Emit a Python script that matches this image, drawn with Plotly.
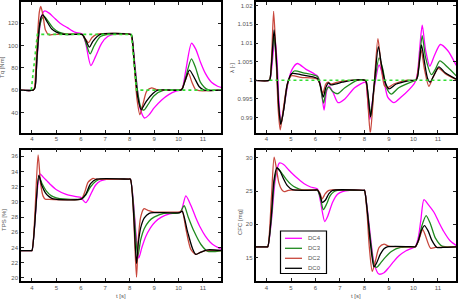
import plotly.graph_objects as go

# ---------------- data ----------------
x_ticks = [4, 5, 6, 7, 8, 9, 10, 11]

# Tq [Nm]
tq_ref_t = [3.97, 4.22, 8.07, 8.28, 11.8]
tq_ref_v = [60, 110, 110, 60, 60]

tq_dc0_t = [3.5, 4.05, 4.12, 4.2, 4.3, 4.38, 4.45, 4.6, 4.8, 5.0, 5.3, 6.03, 6.08, 6.2, 6.35, 6.5, 6.8, 8.03, 8.08, 8.2, 8.33, 8.47, 8.68, 8.95, 9.15, 10.08, 10.15, 10.28, 10.45, 10.65, 10.85, 11.05, 11.8]
tq_dc0_v = [60, 60, 62, 88, 117, 126, 127.5, 122, 115, 112, 110, 110, 109.5, 105, 98.5, 104, 110, 110, 109, 81, 54, 42.5, 50, 57, 60, 60, 61, 69, 78, 71, 63, 60, 60]

tq_dc2_t = [3.5, 4.05, 4.1, 4.2, 4.3, 4.36, 4.45, 4.55, 4.7, 4.9, 6.03, 6.08, 6.18, 6.32, 6.45, 6.65, 8.02, 8.07, 8.17, 8.3, 8.42, 8.55, 8.7, 8.9, 9.1, 10.08, 10.14, 10.25, 10.41, 10.55, 10.7, 10.85, 11.8]
tq_dc2_v = [60, 60, 62, 98, 130, 135, 127, 114, 109.5, 110, 110, 109.5, 106, 102.5, 107, 110, 110, 109, 88, 52, 38, 48, 59, 62, 60.5, 60, 61, 67, 75, 67, 60.5, 59.5, 60]

tq_dc3_t = [3.5, 4.05, 4.12, 4.2, 4.3, 4.4, 4.5, 4.65, 4.85, 5.1, 5.5, 6.03, 6.08, 6.2, 6.38, 6.55, 6.8, 7.1, 8.03, 8.08, 8.2, 8.33, 8.45, 8.58, 8.75, 9.0, 9.4, 10.08, 10.15, 10.3, 10.53, 10.7, 10.9, 11.2, 11.8]
tq_dc3_v = [60, 60, 62, 87, 115, 124, 126, 122, 116, 112, 110, 110, 109.5, 103, 92.5, 100, 108, 110, 110, 109, 84, 58, 45, 42, 47, 55, 60, 60, 61, 72, 88, 80, 67, 60.5, 60]

tq_dc4_t = [3.5, 4.05, 4.12, 4.2, 4.3, 4.42, 4.52, 4.7, 4.9, 5.15, 5.45, 5.75, 6.03, 6.08, 6.2, 6.41, 6.6, 6.85, 7.1, 7.35, 8.03, 8.08, 8.2, 8.33, 8.45, 8.61, 8.8, 9.0, 9.3, 9.6, 9.9, 10.08, 10.15, 10.3, 10.53, 10.7, 10.9, 11.1, 11.35, 11.6, 11.8]
tq_dc4_v = [60, 60, 62, 85, 113, 128, 131, 129, 125, 120, 116, 112, 110.5, 110, 102, 82, 90, 102, 108, 110, 110, 109, 86, 58, 42, 35, 38, 44, 51, 56, 59, 60, 61, 78, 102, 97, 85, 75, 67, 63.5, 62]

# lambda [-]
lam_ref_t = [4.12, 11.8]
lam_ref_v = [1.0, 1.0]

lam_dc0_t = [3.5, 4.12, 4.16, 4.22, 4.31, 4.4, 4.5, 4.58, 4.7, 4.85, 5.03, 5.4, 6.08, 6.18, 6.32, 6.42, 6.53, 6.62, 6.8, 7.1, 7.45, 8.03, 8.08, 8.15, 8.25, 8.4, 8.57, 8.7, 8.85, 9.0, 9.3, 9.9, 10.1, 10.17, 10.25, 10.33, 10.45, 10.58, 10.68, 10.85, 11.04, 11.3, 11.75]
lam_dc0_v = [1.0, 1.0, 1.001, 1.006, 1.0135, 1.006, 0.993, 0.9882, 0.992, 0.999, 1.0018, 1.0015, 1.0005, 0.999, 0.9955, 0.998, 0.9993, 0.9988, 0.999, 0.9995, 1.0, 1.0, 0.9995, 0.996, 0.9902, 0.999, 1.009, 1.004, 0.9995, 0.9977, 0.999, 1.0, 1.0, 1.001, 1.005, 1.0095, 1.005, 1.0005, 0.9995, 1.0015, 1.0036, 1.002, 1.0003]

lam_dc2_t = [3.5, 4.12, 4.16, 4.22, 4.29, 4.38, 4.48, 4.56, 4.68, 4.85, 5.0, 5.4, 6.08, 6.18, 6.3, 6.42, 6.52, 6.62, 6.8, 7.1, 8.03, 8.07, 8.13, 8.24, 8.4, 8.55, 8.68, 8.82, 8.95, 9.2, 9.7, 10.1, 10.15, 10.22, 10.32, 10.45, 10.63, 10.8, 11.02, 11.3, 11.75]
lam_dc2_v = [1.0, 1.0, 1.001, 1.008, 1.0185, 1.008, 0.992, 0.9867, 0.992, 0.999, 1.0012, 1.0008, 1.0003, 0.999, 0.9965, 0.999, 0.9995, 0.999, 0.9993, 0.9998, 1.0, 0.9995, 0.995, 0.9857, 0.999, 1.0112, 1.004, 0.9985, 0.998, 0.999, 1.0, 1.0, 1.001, 1.004, 1.0081, 1.003, 0.9984, 1.0008, 1.0032, 1.0018, 1.0002]

lam_dc3_t = [3.5, 4.12, 4.16, 4.22, 4.3, 4.4, 4.5, 4.6, 4.72, 4.88, 5.13, 5.5, 6.08, 6.18, 6.33, 6.45, 6.55, 6.7, 6.9, 7.2, 7.7, 8.03, 8.08, 8.15, 8.27, 8.42, 8.6, 8.75, 8.9, 9.1, 9.4, 10.0, 10.1, 10.17, 10.25, 10.36, 10.5, 10.74, 10.9, 11.08, 11.4, 11.75]
lam_dc3_v = [1.0, 1.0, 1.001, 1.0055, 1.012, 1.005, 0.9925, 0.9885, 0.993, 0.9995, 1.0025, 1.002, 1.001, 0.999, 0.9939, 0.9975, 0.9982, 0.997, 0.9964, 0.998, 1.0, 1.0, 0.9995, 0.996, 0.9906, 0.9995, 1.006, 1.003, 0.998, 0.9963, 0.998, 0.9998, 1.0, 1.001, 1.006, 1.012, 1.006, 1.0015, 1.003, 1.0052, 1.0035, 1.0012]

lam_dc4_t = [3.5, 4.12, 4.17, 4.24, 4.34, 4.43, 4.52, 4.6, 4.72, 4.9, 5.05, 5.26, 5.6, 6.1, 6.2, 6.35, 6.45, 6.55, 6.7, 6.92, 7.2, 7.6, 8.03, 8.08, 8.12, 8.22, 8.4, 8.6, 8.78, 8.95, 9.2, 9.5, 10.02, 10.1, 10.17, 10.25, 10.36, 10.5, 10.67, 10.85, 11.1, 11.4, 11.75]
lam_dc4_v = [1.0, 1.0, 1.001, 1.005, 1.0115, 1.005, 0.993, 0.9885, 0.993, 1.0, 1.003, 1.0045, 1.003, 1.001, 0.999, 0.992, 0.997, 0.9985, 0.997, 0.994, 0.995, 0.998, 0.9995, 0.999, 0.996, 0.9895, 0.998, 1.0041, 1.0005, 0.9955, 0.994, 0.9955, 0.999, 1.0, 1.002, 1.008, 1.0148, 1.008, 1.0038, 1.0065, 1.0096, 1.008, 1.004]

# TPS [%]
tps_dc0_t = [3.5, 3.95, 4.0, 4.28, 4.4, 4.55, 4.7, 4.87, 6.03, 6.2, 6.4, 6.65, 7.95, 8.03, 8.28, 8.35, 8.45, 8.6, 8.8, 9.0, 10.05, 10.15, 10.37, 10.57, 10.71, 10.92, 11.2, 11.8]
tps_dc0_v = [23.6, 23.6, 23.6, 33.5, 32.2, 31.2, 30.7, 30.4, 30.4, 31.0, 32.4, 33.0, 33.0, 33.0, 21.9, 24.5, 26.6, 27.9, 28.5, 28.6, 28.6, 28.8, 26.1, 23.9, 23.1, 23.4, 23.7, 23.6]

tps_dc2_t = [3.5, 3.95, 4.0, 4.25, 4.35, 4.45, 4.55, 4.7, 6.02, 6.15, 6.3, 6.5, 6.6, 7.95, 8.03, 8.28, 8.35, 8.45, 8.58, 8.75, 8.95, 10.05, 10.15, 10.3, 10.5, 10.7, 10.85, 11.1, 11.8]
tps_dc2_v = [23.6, 23.6, 23.6, 36.2, 32.5, 30.8, 30.35, 30.35, 30.4, 31.2, 32.6, 33.1, 33.0, 33.0, 33.0, 20.1, 25.0, 28.0, 29.1, 28.9, 28.7, 28.7, 28.8, 26.5, 23.8, 23.1, 23.3, 23.6, 23.6]

tps_dc3_t = [3.5, 3.95, 4.0, 4.28, 4.4, 4.6, 4.8, 5.0, 5.3, 6.03, 6.2, 6.4, 6.6, 6.8, 7.95, 8.03, 8.33, 8.45, 8.6, 8.8, 9.0, 9.4, 10.05, 10.23, 10.4, 10.64, 10.92, 11.2, 11.8]
tps_dc3_v = [23.6, 23.6, 23.6, 33.4, 32.5, 31.4, 30.8, 30.55, 30.4, 30.4, 30.9, 32.0, 32.7, 33.0, 33.0, 33.0, 22.8, 25.0, 26.5, 27.5, 28.0, 28.5, 28.6, 29.5, 28.0, 26.1, 24.4, 23.5, 23.6]

tps_dc4_t = [3.5, 3.95, 4.0, 4.32, 4.45, 4.6, 4.75, 5.0, 5.4, 5.8, 6.0, 6.1, 6.2, 6.3, 6.45, 6.6, 6.8, 7.0, 7.1, 7.95, 8.03, 8.37, 8.5, 8.65, 8.85, 9.05, 9.3, 9.6, 10.0, 10.1, 10.3, 10.5, 10.7, 10.9, 11.1, 11.3, 11.5, 11.8]
tps_dc4_v = [23.6, 23.6, 23.6, 33.7, 33.3, 32.8, 32.3, 31.6, 31.0, 30.7, 30.6, 30.2, 29.9, 30.3, 31.3, 32.2, 32.75, 32.95, 33.0, 33.0, 33.0, 22.6, 24.0, 25.4, 26.6, 27.4, 28.0, 28.4, 28.6, 28.7, 30.8, 29.6, 28.0, 26.6, 25.5, 24.7, 24.2, 23.7]

# CFC [mg]
cfc_dc0_t = [3.5, 4.0, 4.05, 4.2, 4.3, 4.42, 4.55, 4.7, 4.85, 5.06, 6.03, 6.08, 6.18, 6.28, 6.4, 6.55, 6.7, 7.95, 8.0, 8.1, 8.25, 8.39, 8.5, 8.65, 8.8, 8.93, 10.03, 10.08, 10.2, 10.32, 10.45, 10.6, 10.75, 10.96, 11.2, 11.8]
cfc_dc0_v = [16.6, 16.6, 16.6, 21.5, 26.5, 28.5, 28.0, 26.8, 25.8, 25.2, 25.15, 25.15, 24.5, 23.3, 23.6, 24.6, 25.1, 25.1, 25.1, 22.5, 17.0, 13.6, 14.2, 15.5, 16.3, 16.6, 16.6, 16.6, 17.5, 19.0, 19.8, 19.0, 17.6, 16.5, 16.5, 16.6]

cfc_dc2_t = [3.5, 4.0, 4.05, 4.2, 4.31, 4.4, 4.5, 4.62, 4.72, 4.9, 6.03, 6.08, 6.18, 6.27, 6.4, 6.55, 7.95, 8.0, 8.1, 8.2, 8.32, 8.45, 8.6, 8.8, 9.0, 10.03, 10.08, 10.2, 10.38, 10.5, 10.7, 10.9, 11.8]
cfc_dc2_v = [16.6, 16.6, 16.6, 24.0, 30.1, 28.5, 26.3, 25.2, 24.9, 25.1, 25.15, 25.15, 24.7, 23.8, 24.6, 25.1, 25.1, 25.1, 22.0, 16.5, 12.9, 14.5, 16.5, 17.0, 16.7, 16.6, 16.6, 17.4, 19.2, 18.2, 16.4, 16.5, 16.6]

cfc_dc3_t = [3.5, 4.0, 4.05, 4.2, 4.32, 4.45, 4.6, 4.8, 5.0, 5.2, 5.47, 6.03, 6.08, 6.2, 6.32, 6.45, 6.6, 6.75, 6.9, 7.95, 8.0, 8.1, 8.25, 8.4, 8.5, 8.65, 8.85, 9.1, 9.48, 10.03, 10.08, 10.2, 10.35, 10.52, 10.7, 10.9, 11.17, 11.8]
cfc_dc3_v = [16.6, 16.6, 16.6, 21.0, 26.5, 28.4, 27.8, 26.8, 26.0, 25.5, 25.15, 25.15, 25.15, 24.0, 22.2, 23.0, 24.3, 24.9, 25.1, 25.1, 25.1, 22.6, 17.5, 13.8, 13.5, 14.1, 15.0, 15.9, 16.5, 16.6, 16.6, 17.5, 19.8, 21.3, 20.0, 17.9, 16.7, 16.6]

cfc_dc4_t = [3.5, 4.0, 4.05, 4.2, 4.35, 4.52, 4.7, 4.9, 5.06, 5.3, 5.54, 5.8, 6.08, 6.2, 6.38, 6.5, 6.7, 6.9, 7.1, 7.4, 7.95, 8.0, 8.1, 8.25, 8.4, 8.59, 8.8, 9.0, 9.2, 9.4, 9.7, 10.03, 10.08, 10.2, 10.3, 10.43, 10.6, 10.84, 11.04, 11.24, 11.5, 11.75]
cfc_dc4_v = [16.6, 16.6, 16.6, 20.5, 26.5, 29.2, 29.0, 28.2, 27.6, 26.8, 26.1, 25.6, 25.3, 23.5, 20.4, 21.2, 23.3, 24.5, 24.9, 25.1, 25.1, 25.1, 22.8, 18.0, 14.0, 12.5, 12.7, 13.5, 14.4, 15.2, 16.0, 16.5, 16.6, 18.0, 20.5, 23.7, 23.0, 21.8, 20.3, 18.9, 17.5, 16.8]

series_names = ["DC4", "DC3", "DC2", "DC0"]
series_colors = ["#ff00ff", "#1f8a1f", "#c8473d", "#000000"]
ref_color = "#33dd33"

# ---------------- figure ----------------
fig = go.Figure()

panels = [
    ("x", "y", [(tq_dc4_t, tq_dc4_v), (tq_dc3_t, tq_dc3_v), (tq_dc2_t, tq_dc2_v), (tq_dc0_t, tq_dc0_v)], (tq_ref_t, tq_ref_v)),
    ("x2", "y2", [(lam_dc4_t, lam_dc4_v), (lam_dc3_t, lam_dc3_v), (lam_dc2_t, lam_dc2_v), (lam_dc0_t, lam_dc0_v)], (lam_ref_t, lam_ref_v)),
    ("x3", "y3", [(tps_dc4_t, tps_dc4_v), (tps_dc3_t, tps_dc3_v), (tps_dc2_t, tps_dc2_v), (tps_dc0_t, tps_dc0_v)], None),
    ("x4", "y4", [(cfc_dc4_t, cfc_dc4_v), (cfc_dc3_t, cfc_dc3_v), (cfc_dc2_t, cfc_dc2_v), (cfc_dc0_t, cfc_dc0_v)], None),
]

for pi, (xa, ya, ser, ref) in enumerate(panels):
    for si, (t, v) in enumerate(ser):
        fig.add_trace(go.Scatter(
            x=t, y=v, mode="lines", xaxis=xa, yaxis=ya,
            name=series_names[si], showlegend=False,
            line=dict(color=series_colors[si], width=1.3, shape="spline", smoothing=0.7),
        ))
    if ref is not None:
        fig.add_trace(go.Scatter(
            x=ref[0], y=ref[1], mode="lines", xaxis=xa, yaxis=ya,
            showlegend=False, line=dict(color=ref_color, width=1.6, dash="dot"),
        ))

W, H = 465, 304
xl = [21 / W, 221 / W]
xr = [255.5 / W, 456 / W]
yt = [(H - 132.5) / H, (H - 2) / H]
yb = [(H - 281) / H, (H - 149.5) / H]

tickfont = dict(family="Liberation Sans, Arial, sans-serif", size=6, color="#555555")
common_x = dict(range=[3.55, 11.74], tickvals=x_ticks, ticks="inside", ticklen=3, tickwidth=1,
                tickcolor="#222", showline=True, linecolor="black", linewidth=1.5, mirror="ticks",
                showgrid=False, zeroline=False, tickfont=tickfont)
common_y = dict(ticks="inside", ticklen=3, tickwidth=1, tickcolor="#222", showline=True,
                linecolor="black", linewidth=1.5, mirror="ticks", showgrid=False, zeroline=False,
                tickfont=tickfont)

fig.update_layout(
    width=W, height=H, margin=dict(l=0, r=0, t=0, b=0),
    paper_bgcolor="white", plot_bgcolor="white",
    xaxis=dict(domain=xl, anchor="y", **common_x),
    xaxis2=dict(domain=xr, anchor="y2", **common_x),
    xaxis3=dict(domain=xl, anchor="y3", **common_x),
    xaxis4=dict(domain=xr, anchor="y4", **common_x),
    yaxis=dict(domain=yt, anchor="x", range=[22, 139], tickvals=[40, 60, 80, 100, 120], **common_y),
    yaxis2=dict(domain=yt, anchor="x2", range=[0.986, 1.021],
                tickvals=[0.99, 0.995, 1.0, 1.005, 1.01, 1.015, 1.02],
                ticktext=["0.99", "0.995", "1", "1.005", "1.01", "1.015", "1.02"], **common_y),
    yaxis3=dict(domain=yb, anchor="x3", range=[19.6, 36.9], tickvals=list(range(20, 37, 2)), **common_y),
    yaxis4=dict(domain=yb, anchor="x4", range=[11.45, 31.25], tickvals=[15, 20, 25, 30], **common_y),
    showlegend=False,
)

title_font = dict(family="Liberation Sans, Arial, sans-serif", size=6, color="#555555")
labels = [
    ("Tq [Nm]", 2, 67),
    ("λ [-]", 232, 68),
    ("TPS [%]", 4, 220),
    ("CFC [mg]", 240, 222),
]
for txt, px, py in labels:
    fig.add_annotation(text=txt, x=px / W, y=(H - py) / H, xref="paper", yref="paper",
                       textangle=-90, showarrow=False, font=title_font,
                       xanchor="center", yanchor="middle")
for px in (121, 356):
    fig.add_annotation(text="t [s]", x=px / W, y=(H - 296) / H, xref="paper", yref="paper",
                       showarrow=False, font=title_font, xanchor="center", yanchor="middle")

# compact legend box inside the CFC panel
lg_x0, lg_x1, lg_y0, lg_y1 = 280.5, 326.5, 231, 273.5
fig.add_shape(type="rect", xref="paper", yref="paper",
              x0=lg_x0 / W, x1=lg_x1 / W, y0=(H - lg_y1) / H, y1=(H - lg_y0) / H,
              line=dict(color="black", width=1.2), fillcolor="white", layer="above")
for i, (nm, col) in enumerate(zip(series_names, series_colors)):
    yy = 238.3 + 10 * i
    fig.add_shape(type="line", xref="paper", yref="paper",
                  x0=285 / W, x1=302 / W, y0=(H - yy) / H, y1=(H - yy) / H,
                  line=dict(color=col, width=1.3), layer="above")
    fig.add_annotation(text=nm, x=306 / W, y=(H - yy) / H, xref="paper", yref="paper",
                       showarrow=False, xanchor="left", yanchor="middle",
                       font=dict(family="Liberation Sans, Arial, sans-serif", size=6, color="#555555"))

fig.write_html("out.html")
